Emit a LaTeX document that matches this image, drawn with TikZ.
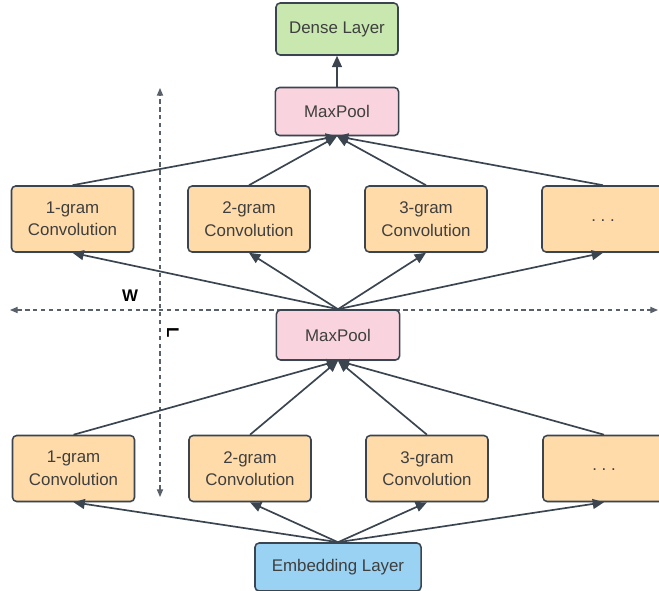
\documentclass[tikz,border=0pt]{standalone}
\usepackage{fontspec}
\setmainfont{Liberation Sans}
\usetikzlibrary{arrows.meta,shadows}
\definecolor{linec}{HTML}{3B4550}
\definecolor{textc}{HTML}{3F3F3F}
\definecolor{convc}{HTML}{FFDBA9}
\definecolor{poolc}{HTML}{F9D3DE}
\definecolor{densec}{HTML}{C8E8B0}
\definecolor{embedc}{HTML}{9AD2F3}
\tikzset{
    block/.style={draw=linec, line width=1.1pt, rounded corners=3pt, align=center, text=textc,
        inner sep=0pt, font=\fontsize{12}{16}\selectfont,
        drop shadow={opacity=0.12, shadow xshift=0.6pt, shadow yshift=-1pt}},
    conv/.style={block, fill=convc, minimum width=3.05cm, minimum height=1.65cm},
    pool/.style={block, fill=poolc, minimum width=3.08cm, minimum height=1.2cm},
    link/.style={draw=linec, line width=1.2pt, -{Triangle[length=8pt,width=7pt]}},
    axis/.style={draw=linec!85, line width=0.8pt, dash pattern=on 3pt off 2.6pt,
        {Triangle[length=5.5pt,width=4.5pt]}-{Triangle[length=5.5pt,width=4.5pt]}},
    axislabel/.style={font=\bfseries\fontsize{12}{14}\selectfont, text=black}
}
\begin{document}
\begin{tikzpicture}[x=0.025cm, y=-0.025cm]
        \useasboundingbox (0,0) rectangle (659,591);
        \clip (0,0) rectangle (659,591);
        % Dashed axes
        \coordinate (wleft) at (10,310);
        \coordinate (wright) at (658,310);
        \coordinate (ltop) at (160,88);
        \coordinate (lbottom) at (160,497);
        \draw[axis] (wleft) -- (wright);
        \draw[axis] (lbottom) -- (ltop);
        \node[axislabel] (wlabel) at (130,296) {W};
        \node[axislabel, rotate=-90] (llabel) at (173,333) {L};
        % Layers
        \node[block, fill=densec, minimum width=3.05cm, minimum height=1.3cm] (dense) at (337,29) {Dense Layer};
        \node[pool] (pooltop) at (337,111.5) {MaxPool};
        \node[pool, minimum height=1.25cm] (poolmid) at (338,335) {MaxPool};
        \node[block, fill=embedc, minimum width=4.15cm, minimum height=1.2cm] (embed) at (338,567) {Embedding Layer};
        % Convolution rows
        \foreach \i/\x/\t in {1/72.5/1-gram\\Convolution, 2/249/2-gram\\Convolution, 3/426/3-gram\\Convolution, 4/603/{\raisebox{-3pt}{.\ .\ .}}} {
            \node[conv] (uconv\i) at (\x,219) {\t};
            \node[conv] (lconv\i) at (\x+1,468.5) {\t};
        }
        % Connections
        \foreach \i in {1,2,3,4} {
            \draw[link] (uconv\i.north) -- (pooltop.south);
            \draw[link] (poolmid.north) -- (uconv\i.south);
            \draw[link] (lconv\i.north) -- (poolmid.south);
            \draw[link] (embed.north) -- (lconv\i.south);
        }
        \draw[link] (pooltop) -- (dense);
    \end{tikzpicture}
\end{document}
